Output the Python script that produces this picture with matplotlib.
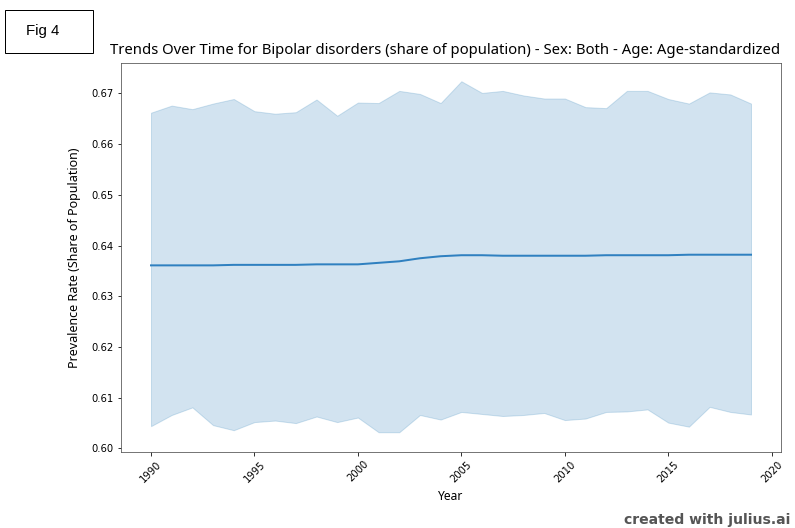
import numpy as np
import matplotlib
matplotlib.use("Agg")
import matplotlib.pyplot as plt
from matplotlib.patches import Rectangle

# data
years = list(range(1990, 2020))

mean_rate = [0.6361, 0.6361, 0.6361, 0.6361, 0.6362, 0.6362, 0.6362, 0.6362,
             0.6363, 0.6363, 0.6363, 0.6366, 0.6369, 0.6375, 0.6379, 0.6381,
             0.6381, 0.6380, 0.6380, 0.6380, 0.6380, 0.6380, 0.6381, 0.6381,
             0.6381, 0.6381, 0.6382, 0.6382, 0.6382, 0.6382]

upper = [0.6662, 0.6676, 0.6669, 0.6680, 0.6689, 0.6665, 0.6660, 0.6663,
         0.6688, 0.6656, 0.6682, 0.6681, 0.6705, 0.6699, 0.6681, 0.6724,
         0.6701, 0.6705, 0.6696, 0.6690, 0.6690, 0.6673, 0.6671, 0.6705,
         0.6705, 0.6689, 0.6680, 0.6702, 0.6698, 0.6680]

lower = [0.6044, 0.6066, 0.6081, 0.6046, 0.6036, 0.6052, 0.6055, 0.6050,
         0.6063, 0.6052, 0.6061, 0.6032, 0.6032, 0.6066, 0.6057, 0.6072,
         0.6068, 0.6064, 0.6066, 0.6070, 0.6056, 0.6059, 0.6072, 0.6073,
         0.6077, 0.6051, 0.6043, 0.6082, 0.6072, 0.6067]

fig = plt.figure(figsize=(795 / 72, 528 / 72), dpi=72)
ax = fig.add_axes([0.1522, 0.1439, 0.8302, 0.7368])

ax.fill_between(years, lower, upper, color="#1f77b4", alpha=0.2, linewidth=1)
ax.plot(years, mean_rate, color="#2f80c0", linewidth=2)

ax.set_ylim(0.5993, 0.6760)
ax.set_xticks([1990, 1995, 2000, 2005, 2010, 2015, 2020])
ax.tick_params(axis="x", labelrotation=45)
for s in ax.spines.values():
    s.set_color("#555555")

ax.set_title("Trends Over Time for Bipolar disorders (share of population) - Sex: Both - Age: Age-standardized",
             pad=9, family="Noto Sans", fontsize=14.85, x=0.4905)
ax.set_xlabel("Year", labelpad=6, family="Noto Sans", fontsize=12)
ax.set_ylabel("Prevalence Rate (Share of Population)", labelpad=11,
              family="Noto Sans", fontsize=12.5)

# "Fig 4" label box
fig.patches.append(Rectangle((5 / 795, 1 - 53 / 528), 88 / 795, 43 / 528,
                             transform=fig.transFigure, fill=False,
                             edgecolor="black", linewidth=1))
fig.text(43 / 795, 1 - 31.5 / 528, "Fig 4", ha="center", va="center",
         fontsize=15, family="Liberation Sans")

fig.text(790 / 795, 1 - 527 / 528, "created with julius.ai", ha="right",
         va="bottom", fontsize=14, fontweight="bold", color="#555555")

fig.savefig("out.png", dpi=72)
